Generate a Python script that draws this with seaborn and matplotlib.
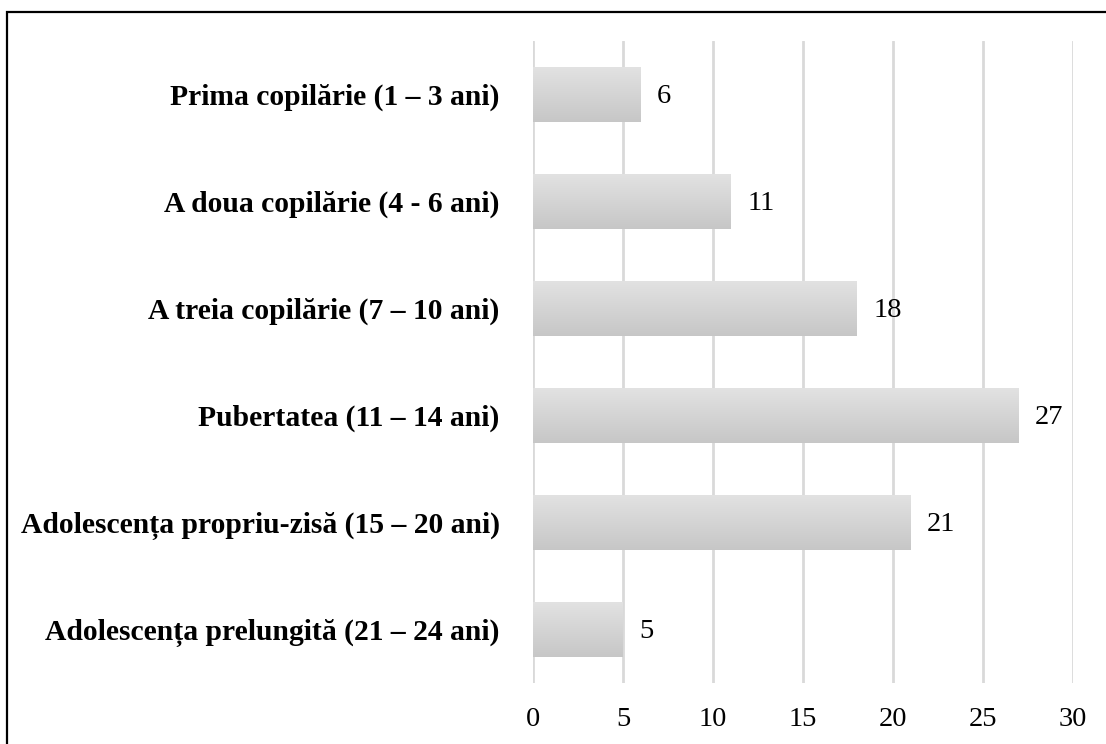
import matplotlib
matplotlib.use("Agg")
import matplotlib.pyplot as plt
import matplotlib.patches as mpatches
import numpy as np
import pandas as pd
import seaborn as sns

categories = [
    "Prima copilărie (1 – 3 ani)",
    "A doua copilărie (4 - 6 ani)",
    "A treia copilărie (7 – 10 ani)",
    "Pubertatea (11 – 14 ani)",
    "Adolescența propriu-zisă (15 – 20 ani)",
    "Adolescența prelungită (21 – 24 ani)",
]
values = [6, 11, 18, 27, 21, 5]
x_ticks = [0, 5, 10, 15, 20, 25, 30]

sns.set_theme(style="white")
plt.rcParams["font.family"] = ["Liberation Serif", "DejaVu Serif"]

df = pd.DataFrame({"cat": categories, "val": values})

fig = plt.figure(figsize=(11.06, 7.44), dpi=100)
ax = fig.add_axes([533 / 1106, 1 - 683 / 744, 540 / 1106, 642 / 744])

sns.barplot(data=df, x="val", y="cat", orient="h", color="#d6d6d6",
            width=0.51, ax=ax, zorder=3)

ax.set_xlim(0, 30)
ax.set_ylim(5.5, -0.5)
ax.set_xticks(x_ticks)
ax.set_xticklabels([str(t) for t in x_ticks])
ax.set_xlabel("")
ax.set_ylabel("")
for s in ax.spines.values():
    s.set_visible(False)
ax.grid(False)
for t in x_ticks:
    ax.axvline(t, color="#d9d9d9", lw=2, zorder=1)

ax.tick_params(axis="x", length=0, pad=17, labelsize=20.5, colors="black")
ax.tick_params(axis="y", length=0, pad=24, labelsize=21.3, colors="black")
for lbl in ax.get_yticklabels():
    lbl.set_fontweight("bold")

# gradient fill for bars
light = np.array([0.886, 0.886, 0.886])
dark = np.array([0.780, 0.780, 0.780])
n = 64
tt = np.linspace(0, 1, n)[:, None]
grad = (light * (1 - tt) + dark * tt)[:, None, :]
grad = np.repeat(grad, 2, axis=1)
for p in list(ax.patches):
    x0, y0 = p.get_x(), p.get_y()
    w, h = p.get_width(), p.get_height()
    im = ax.imshow(grad, extent=(x0, x0 + w, y0 + h, y0), origin="upper",
                   aspect="auto", zorder=3, interpolation="bilinear")
    im.set_clip_path(p)
    p.set_facecolor("none")
    p.set_edgecolor("none")
    ax.text(x0 + w + 0.9, y0 + h / 2 + 0.02, str(int(round(w))), va="center",
            ha="left", fontsize=20.5, color="black", zorder=4)

ax.set_xlim(0, 30)
ax.set_ylim(5.5, -0.5)
ax.set_aspect("auto")

# outer border
border = mpatches.Rectangle((7 / 1106, -0.1), 1.2, 1 - 12 / 744 + 0.1,
                            transform=fig.transFigure, fill=False,
                            edgecolor="black", lw=1.6, clip_on=False)
fig.patches.append(border)

fig.savefig("out.png", dpi=100)
